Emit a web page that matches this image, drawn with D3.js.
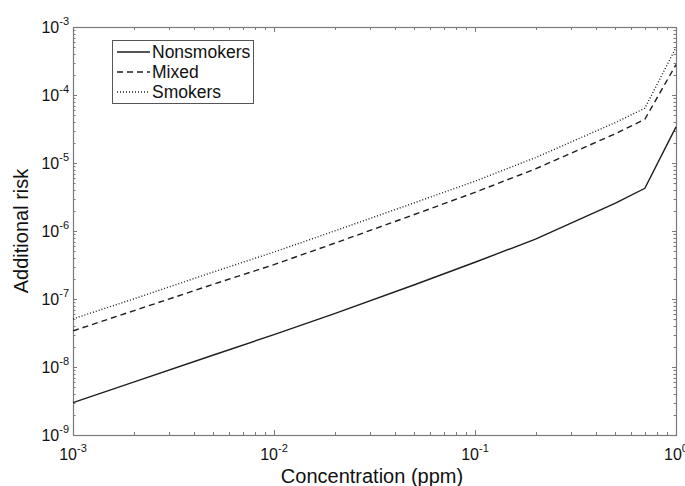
<!DOCTYPE html>
<html>
<head>
<meta charset="utf-8">
<script src="https://cdn.jsdelivr.net/npm/d3@7"></script>
<style>
  body { margin: 0; background: #fff; }
  text { font-family: "Liberation Sans", Arial, sans-serif; fill: #111; }
</style>
</head>
<body>
<div id="chart"></div>
<script>
// concentration (ppm) and additional risk per group
let concentration = [0.001, 0.002, 0.005, 0.01, 0.02, 0.05, 0.1, 0.2, 0.5, 0.7, 1]
let nonsmokers = [3.0e-9, 6.0e-9, 1.5e-8, 3.0e-8, 6.1e-8, 1.62e-7, 3.47e-7, 7.6e-7, 2.56e-6, 4.25e-6, 3.4e-5]
let mixed = [3.4e-8, 6.7e-8, 1.65e-7, 3.2e-7, 6.6e-7, 1.75e-6, 3.7e-6, 8.2e-6, 2.7e-5, 4.4e-5, 2.8e-4]
let smokers = [5.1e-8, 1.0e-7, 2.5e-7, 4.9e-7, 1.0e-6, 2.6e-6, 5.4e-6, 1.2e-5, 3.94e-5, 6.4e-5, 5.0e-4]

let seriesNames = ["Nonsmokers", "Mixed", "Smokers"]
let seriesValues = [nonsmokers, mixed, smokers]
let dashes = [null, "6,4", "1,2"]

let xMajor = [1e-3, 1e-2, 1e-1, 1]
let yMajor = [1e-9, 1e-8, 1e-7, 1e-6, 1e-5, 1e-4, 1e-3]

const svgWidth = 685, svgHeight = 486
const plot = {left: 73, right: 676, top: 27, bottom: 435}
const axisColor = "#7a7a7a"

let svg = d3.select('#chart')
    .append('svg')
    .attr('width', svgWidth)
    .attr('height', svgHeight)

let xScale = d3.scaleLog()
    .domain([1e-3, 1])
    .range([plot.left, plot.right])

let yScale = d3.scaleLog()
    .domain([1e-9, 1e-3])
    .range([plot.bottom, plot.top])

// minor ticks 2..9 for each decade
function minors(majors) {
    let out = []
    majors.slice(0, -1).forEach(m => {
        for (let k = 2; k <= 9; k++) out.push(m * k)
    })
    return out
}

let tickGroup = svg.append("g")
    .attr("stroke", axisColor)
    .attr("stroke-width", 1)

// x ticks, bottom (up) and top (down)
let xTicks = xMajor.map(d => ({v: d, len: 5})).concat(minors(xMajor).map(d => ({v: d, len: 3})))
tickGroup.selectAll(".xb")
    .data(xTicks)
    .join("line")
    .attr("class", "xb")
    .attr("x1", d => Math.round(xScale(d.v)) + 0.5)
    .attr("x2", d => Math.round(xScale(d.v)) + 0.5)
    .attr("y1", plot.bottom)
    .attr("y2", d => plot.bottom - d.len)
tickGroup.selectAll(".xt")
    .data(xTicks)
    .join("line")
    .attr("class", "xt")
    .attr("x1", d => Math.round(xScale(d.v)) + 0.5)
    .attr("x2", d => Math.round(xScale(d.v)) + 0.5)
    .attr("y1", plot.top)
    .attr("y2", d => plot.top + d.len)

// y ticks, left (right) and right (left)
let yTicks = yMajor.map(d => ({v: d, len: 4})).concat(minors(yMajor).map(d => ({v: d, len: 2.5})))
tickGroup.selectAll(".yl")
    .data(yTicks)
    .join("line")
    .attr("class", "yl")
    .attr("y1", d => Math.round(yScale(d.v)) + 0.5)
    .attr("y2", d => Math.round(yScale(d.v)) + 0.5)
    .attr("x1", plot.left)
    .attr("x2", d => plot.left + d.len)
tickGroup.selectAll(".yr")
    .data(yTicks)
    .join("line")
    .attr("class", "yr")
    .attr("y1", d => Math.round(yScale(d.v)) + 0.5)
    .attr("y2", d => Math.round(yScale(d.v)) + 0.5)
    .attr("x1", plot.right)
    .attr("x2", d => plot.right - d.len)

// box
svg.append("rect")
    .attr("x", plot.left + 0.5)
    .attr("y", plot.top + 0.5)
    .attr("width", plot.right - plot.left)
    .attr("height", plot.bottom - plot.top)
    .attr("fill", "none")
    .attr("stroke", axisColor)
    .attr("stroke-width", 1.2)

// data lines
let line = d3.line()
    .x((d, i) => xScale(concentration[i]))
    .y(d => yScale(d))

svg.append("g")
    .selectAll("path")
    .data(seriesValues)
    .join("path")
    .attr("d", line)
    .attr("fill", "none")
    .attr("stroke", "#1e1e1e")
    .attr("stroke-width", 1.4)
    .attr("stroke-dasharray", (d, i) => dashes[i])

// tick labels: 10 with superscript exponent
function expLabel(sel) {
    sel.append("tspan").text("10")
    sel.append("tspan")
        .attr("dy", -8)
        .attr("font-size", 11)
        .text(d => Math.round(Math.log10(d)))
}

svg.append("g")
    .selectAll("text")
    .data(xMajor)
    .join("text")
    .attr("x", d => xScale(d))
    .attr("y", 460)
    .attr("font-size", 16)
    .attr("text-anchor", "middle")
    .call(expLabel)

svg.append("g")
    .selectAll("text")
    .data(yMajor)
    .join("text")
    .attr("x", 69)
    .attr("y", d => yScale(d) + 6)
    .attr("font-size", 16)
    .attr("text-anchor", "end")
    .call(expLabel)

// axis titles
svg.append("text")
    .attr("x", 372)
    .attr("y", 483)
    .attr("font-size", 20)
    .attr("text-anchor", "middle")
    .text("Concentration (ppm)")

svg.append("text")
    .attr("transform", "translate(28,231) rotate(-90)")
    .attr("font-size", 20)
    .attr("text-anchor", "middle")
    .text("Additional risk")

// legend
let legendGroup = svg.append("g")

legendGroup.append("rect")
    .attr("x", 112.5)
    .attr("y", 40.5)
    .attr("width", 141)
    .attr("height", 63)
    .attr("fill", "#fff")
    .attr("stroke", "#555")
    .attr("stroke-width", 1)

legendGroup.selectAll("line")
    .data(seriesNames)
    .join("line")
    .attr("x1", 117)
    .attr("x2", 150)
    .attr("y1", (d, i) => 52 + i * 20)
    .attr("y2", (d, i) => 52 + i * 20)
    .attr("stroke", "#1e1e1e")
    .attr("stroke-width", 1.4)
    .attr("stroke-dasharray", (d, i) => dashes[i])

legendGroup.selectAll("text")
    .data(seriesNames)
    .join("text")
    .attr("x", 152)
    .attr("y", (d, i) => 58 + i * 20)
    .attr("font-size", 17.5)
    .text(d => d)
</script>
</body>
</html>
